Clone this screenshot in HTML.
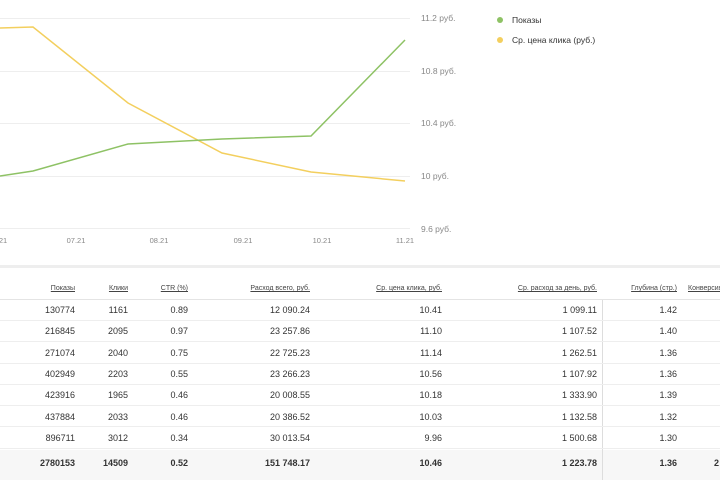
<!DOCTYPE html><html><head><meta charset="utf-8"><style>
body{margin:0;width:720px;height:480px;overflow:hidden;background:#fff;font-family:"Liberation Sans",sans-serif;position:relative}
.t{position:absolute;font-size:9px;color:#333;text-align:right}
.h{position:absolute;font-size:7px;color:#444;text-decoration:underline;text-align:right;white-space:nowrap}
.r{position:absolute;left:0;width:720px;height:1px;background:#eee}
</style></head><body>
<svg width="720" height="260" style="position:absolute;left:0;top:0" font-family="Liberation Sans" font-size="8.5" fill="#888">
<g stroke="#eee" stroke-width="1">
<line x1="0" y1="18.5" x2="410" y2="18.5"/><line x1="0" y1="71.5" x2="410" y2="71.5"/><line x1="0" y1="123.5" x2="410" y2="123.5"/><line x1="0" y1="176.5" x2="410" y2="176.5"/><line x1="0" y1="228.5" x2="410" y2="228.5"/></g>
<text x="421" y="21">11.2 руб.</text><text x="421" y="74">10.8 руб.</text><text x="421" y="126">10.4 руб.</text><text x="421" y="179">10 руб.</text><text x="421" y="232">9.6 руб.</text>
<g font-size="7.5" text-anchor="middle"><text x="2" y="243">.21</text><text x="76" y="243">07.21</text><text x="159" y="243">08.21</text><text x="243" y="243">09.21</text><text x="322" y="243">10.21</text><text x="405" y="243">11.21</text></g>
<polyline fill="none" stroke="#f3cf5e" stroke-width="1.5" points="0,28 33,27 128,103 222,153 311,172 405,181"/>
<polyline fill="none" stroke="#8ec265" stroke-width="1.5" points="0,176 33,171 128,144 222,139 311,136 405,40"/>
<circle cx="500" cy="20" r="3" fill="#8ec265"/><text x="512" y="23" fill="#333">Показы</text>
<circle cx="500" cy="40" r="3" fill="#f3cf5e"/><text x="512" y="43" fill="#333">Ср. цена клика (руб.)</text>
</svg>
<div style="position:absolute;left:0;top:265px;width:720px;height:3px;background:#eee"></div>
<div style="position:absolute;left:0;top:450px;width:720px;height:30px;background:#f7f7f7"></div>
<div style="position:absolute;left:602px;top:300px;width:1px;height:180px;background:#ddd"></div>
<div class="r" style="top:299px;background:#e4e4e4"></div>
<div class="r" style="top:320px"></div><div class="r" style="top:341px"></div><div class="r" style="top:363px"></div><div class="r" style="top:384px"></div><div class="r" style="top:405px"></div><div class="r" style="top:426px"></div><div class="r" style="top:448px"></div>
<div class="h" style="right:645px;top:285px">Показы</div>
<div class="h" style="right:592px;top:285px">Клики</div>
<div class="h" style="right:532px;top:285px">CTR (%)</div>
<div class="h" style="right:410px;top:285px">Расход всего, руб.</div>
<div class="h" style="right:278px;top:285px">Ср. цена клика, руб.</div>
<div class="h" style="right:123px;top:285px">Ср. расход за день, руб.</div>
<div class="h" style="right:43px;top:285px">Глубина (стр.)</div>
<div class="h" style="left:688px;top:285px;text-align:left">Конверсия</div>
<div id="tb"></div>
<script>
var d=[["130774","1161","0.89","12 090.24","10.41","1 099.11","1.42"],["216845","2095","0.97","23 257.86","11.10","1 107.52","1.40"],["271074","2040","0.75","22 725.23","11.14","1 262.51","1.36"],["402949","2203","0.55","23 266.23","10.56","1 107.92","1.36"],["423916","1965","0.46","20 008.55","10.18","1 333.90","1.39"],["437884","2033","0.46","20 386.52","10.03","1 132.58","1.32"],["896711","3012","0.34","30 013.54","9.96","1 500.68","1.30"],["2780153","14509","0.52","151 748.17","10.46","1 223.78","1.36"]];
var R=[645,592,532,410,278,123,43],h="";
d.forEach(function(r,i){var y=305+i*21.3;if(i==7)y=458;r.forEach(function(v,j){h+='<div class="t" style="right:'+R[j]+'px;top:'+y+'px;'+(i==7?'font-weight:bold':'')+'">'+v+'</div>'});});
h+='<div class="t" style="left:714px;top:458px;font-weight:bold;text-align:left">2</div>';
document.getElementById("tb").innerHTML=h;
</script>
</body></html>
